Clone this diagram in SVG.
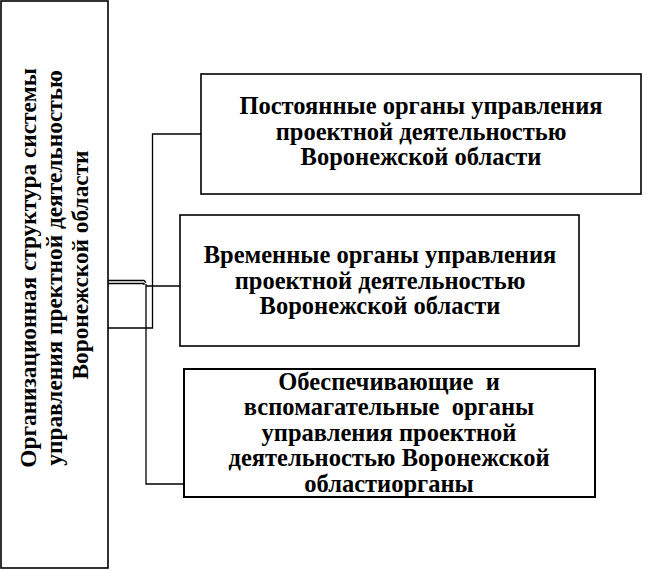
<svg xmlns="http://www.w3.org/2000/svg" width="647" height="570" viewBox="0 0 647 570">
<style>
.box{fill:#fff;stroke:#000;stroke-width:1.6}
.t{font-family:"Liberation Serif","Times New Roman",serif;font-weight:bold;font-size:24.5px;fill:#000;text-anchor:middle}
.v{font-size:23.3px}
.c{fill:none;stroke:#000;stroke-width:1.3}
</style>
<rect width="647" height="570" fill="#fff"/>
<g id="main">
<rect class="box" x="1" y="1" width="107" height="567"/>
<text class="t v" transform="translate(0,265) rotate(-90)">
<tspan x="0" y="36">Организационная структура системы</tspan>
<tspan x="0" y="62">управления пректной деятельностью</tspan>
<tspan x="0" y="88">Воронежской области</tspan>
</text>
</g>
<g id="connectors">
<path class="c" d="M108,280.5 H144 L146,282.5 M108,283.5 H144 V285"/>
<path class="c" d="M146,284 V484 H184"/>
<path class="c" d="M146,286 H180"/>
<path class="c" d="M201,134 H152.5 V328 H108"/>
</g>
<g id="n1">
<rect class="box" x="201" y="74" width="440" height="120"/>
<text class="t"><tspan x="421" y="114">Постоянные органы управления</tspan><tspan x="421" y="140">проектной деятельностью</tspan><tspan x="421" y="165">Воронежской области</tspan></text>
</g>
<g id="n2">
<rect class="box" x="180" y="215" width="399" height="131"/>
<text class="t"><tspan x="380" y="263">Временные органы управления</tspan><tspan x="380" y="289">проектной деятельностью</tspan><tspan x="380" y="314">Воронежской области</tspan></text>
</g>
<g id="n3">
<rect class="box" x="184" y="369" width="411" height="128" style="stroke-width:2"/>
<text class="t"><tspan x="389" y="390" style="white-space:pre">Обеспечивающие  и</tspan><tspan x="389" y="415" style="white-space:pre">вспомагательные  органы</tspan><tspan x="389" y="441">управления проектной</tspan><tspan x="389" y="466">деятельностью Воронежской</tspan><tspan x="389" y="492">областиорганы</tspan></text>
</g>
</svg>
